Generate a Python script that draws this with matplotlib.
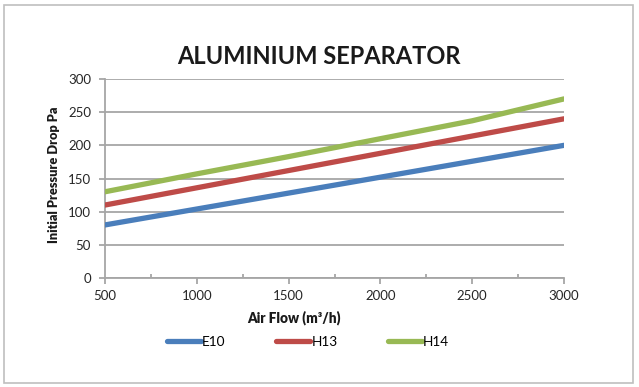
import matplotlib.pyplot as plt
import matplotlib as mpl
from matplotlib.patches import Rectangle

plt.rcParams['font.family'] = ['Lato', 'DejaVu Sans']

air_flow = [500, 1000, 1500, 2000, 2500, 3000]
e10 = [80, 104, 128, 152, 176, 200]
h13 = [110, 136, 162, 188, 214, 240]
h14 = [130, 157, 183, 210, 237, 270]

series = [('E10', e10, '#4a7ebb'), ('H13', h13, '#be4b48'), ('H14', h14, '#98b954')]

W, H = 639, 387
fig = plt.figure(figsize=(W / 100, H / 100), dpi=100)

# axes placed in pixel terms
left, right, top, bottom = 105, 564, 79, 278
ax = fig.add_axes([left / W, 1 - bottom / H, (right - left) / W, (bottom - top) / H])

for name, vals, col in series:
    ax.plot(air_flow, vals, color=col, lw=3.8, solid_capstyle='round', label=name, zorder=3)

ax.set_xlim(500, 3000)
ax.set_ylim(0, 300)
ax.set_xticks(range(500, 3001, 500))
ax.set_xticks(range(750, 3000, 500), minor=True)
ax.set_yticks(range(0, 301, 50))
ax.yaxis.grid(True, color='#a6a6a6', lw=1.3)
ax.set_axisbelow(True)

for s in ['top', 'right']:
    ax.spines[s].set_visible(False)
for s in ['left', 'bottom']:
    ax.spines[s].set_color('#a6a6a6')
    ax.spines[s].set_linewidth(1.3)

ax.tick_params(axis='both', which='major', length=4, width=1.3, color='#a6a6a6',
               labelsize=9.5, labelcolor='#262626')
ax.tick_params(axis='x', which='minor', direction='in', length=3, width=1.3, color='#a6a6a6')
ax.tick_params(axis='x', pad=5)
ax.tick_params(axis='y', pad=6)

fig.text(319 / W, 1 - 57 / H, 'ALUMINIUM SEPARATOR', ha='center', va='center',
         fontsize=17, fontweight='bold', color='#1a1a1a')
fig.text(294 / W, 1 - 318 / H, 'Air Flow (m³/h)', ha='center', va='center',
         fontsize=9.8, fontweight='heavy', color='#1a1a1a')
fig.text(54 / W, 1 - 175 / H, 'Initial Pressure Drop Pa', ha='center', va='center',
         rotation=90, fontsize=9.2, fontweight='heavy', color='#1a1a1a')

fig.legend(loc='center', bbox_to_anchor=(308 / W, 1 - 342 / H), ncol=3, frameon=False,
           fontsize=9.8, handlelength=2.5, handletextpad=0.1, columnspacing=3.7)

# outer chart border
fig.patches.append(Rectangle((4 / W, 4 / H), 629 / W, 378 / H, transform=fig.transFigure,
                             fill=False, edgecolor='#bfbfbf', lw=1.2))

fig.savefig('out.png', dpi=100)
